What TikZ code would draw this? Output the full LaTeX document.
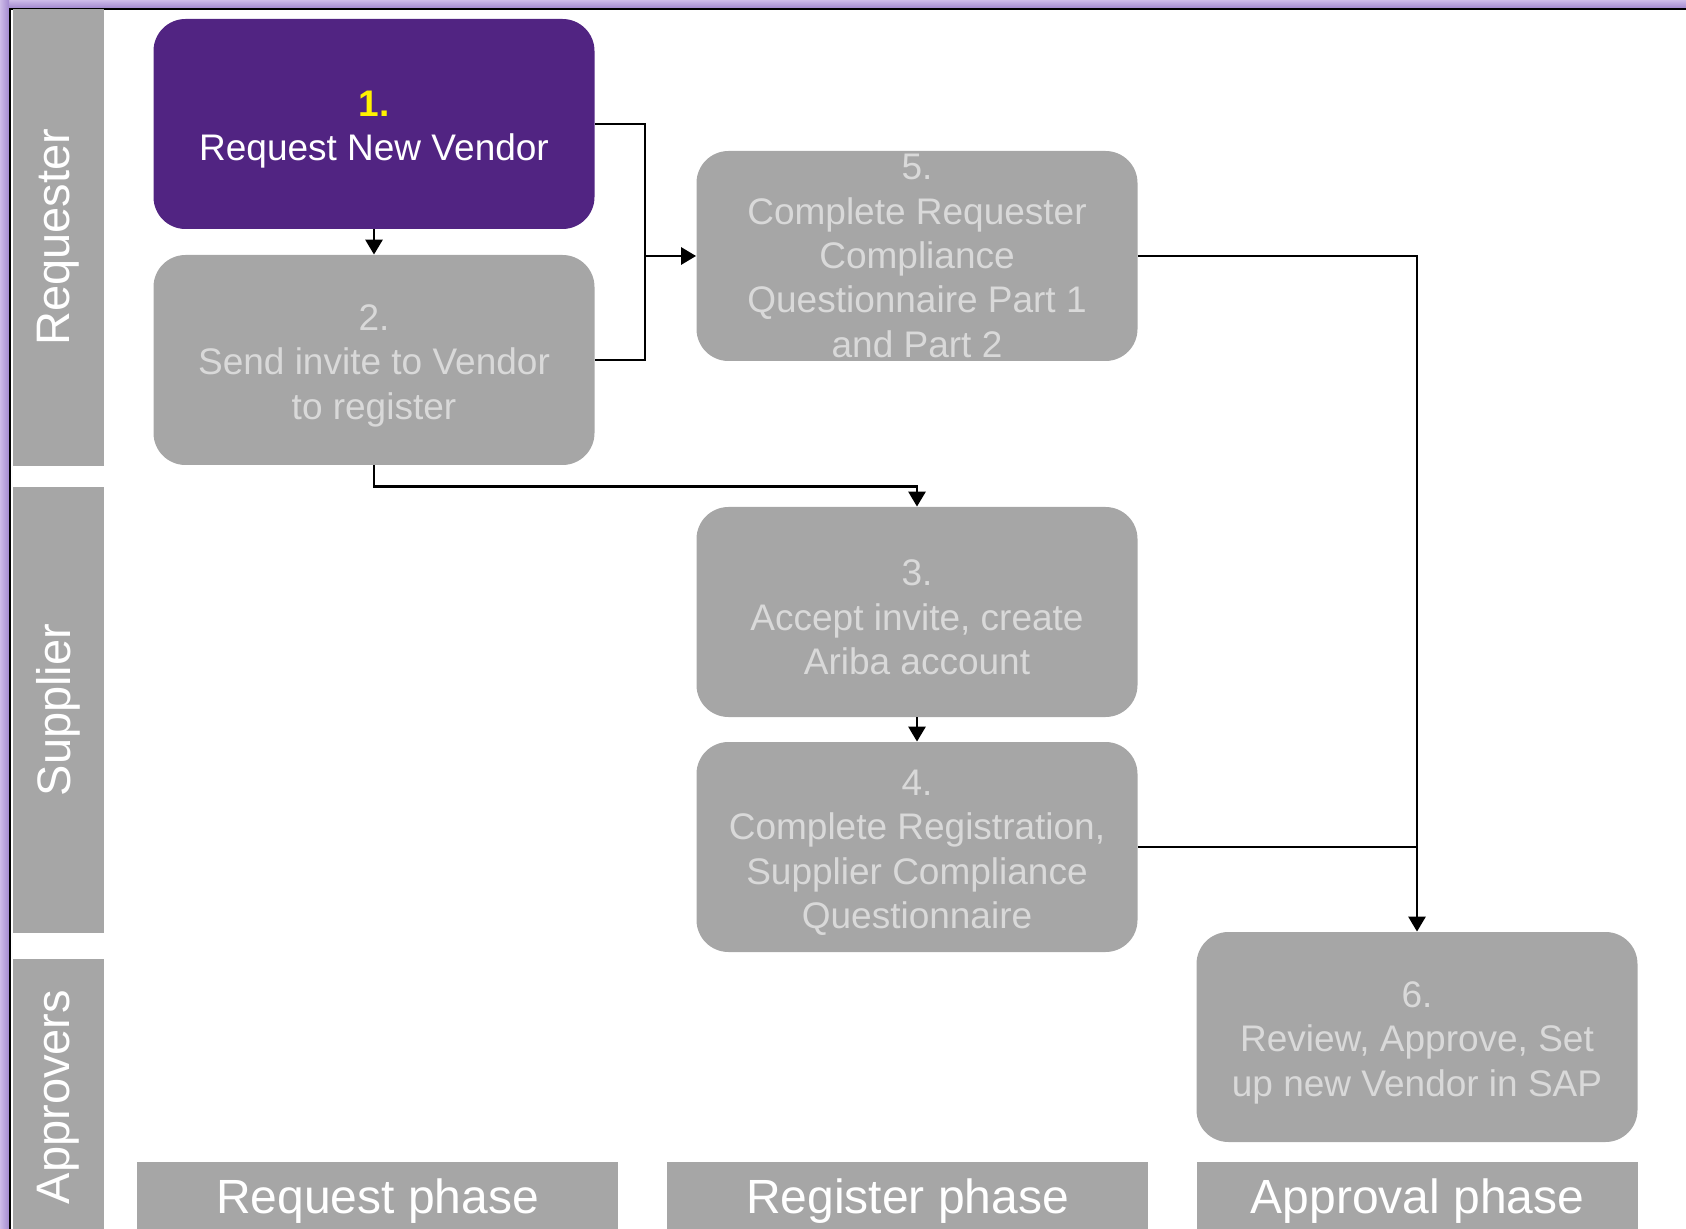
\documentclass[tikz,border=0pt]{standalone}
\usepackage{fontspec}
\setmainfont{Liberation Sans}
\usetikzlibrary{arrows.meta}

\definecolor{boxgray}{HTML}{A6A6A6}
\definecolor{boxtext}{HTML}{D9D9D9}
\definecolor{reqpurple}{HTML}{512482}
\definecolor{framelight}{HTML}{CDBBE8}
\definecolor{framedark}{HTML}{A389CF}

% number line of a step, with a little extra room above it
\newcommand\stepnum[1]{\rule{0pt}{18.5pt}#1}

\tikzset{
  stepbox/.style={fill=boxgray, text=boxtext, rounded corners=16pt,
    minimum width=220.5pt, minimum height=105pt, inner sep=0pt,
    align=center, font=\fontsize{18.5}{22.2}\selectfont},
  lanebox/.style={fill=boxgray, text=white, rotate=90, inner sep=0pt,
    minimum height=45.5pt, font=\fontsize{23.5}{28}\selectfont},
  phasebox/.style={fill=boxgray, text=white, inner sep=0pt,
    minimum width=240.5pt, minimum height=39pt, font=\fontsize{24}{28}\selectfont},
  conn/.style={line width=1.4pt},
  arr/.style={conn, -{Triangle[length=7.5pt,width=8.5pt]}}
}

\begin{document}
\begin{tikzpicture}[x=0.5pt,y=0.5pt,yscale=-1,xscale=1]
\useasboundingbox (0,0) rectangle (1686,1229);

%Frame
\shade[top color=framelight, bottom color=framedark] (0,0) rectangle (1686,8);
\shade[left color=framelight, right color=framedark] (0,0) rectangle (9,1229);
\draw[line width=1pt] (10,1229) -- (10,9) -- (1686,9);

%Swim lanes
\node[lanebox, minimum width=228.5pt] (requester) at (58.5,237.5) {Requester};
\node[lanebox, minimum width=223pt] (supplier) at (58.5,710) {Supplier};
\node[lanebox, minimum width=138pt] (approvers) at (58.5,1097) {Approvers};

%Phases
\node[phasebox] (reqphase) at (377.5,1201) {Request phase};
\node[phasebox] (regphase) at (907.5,1201) {Register phase};
\node[phasebox, minimum width=220.5pt] (appphase) at (1417.5,1201) {Approval phase};

%Steps
\node[stepbox, fill=reqpurple, text=white] (b1) at (374,124)
  {\stepnum{\bfseries\color{yellow}1.}\\Request New Vendor};
\node[stepbox] (b2) at (374,360) {\stepnum{2.}\\Send invite to Vendor\\to register};
\node[stepbox] (b5) at (917,256)
  {5.\\Complete Requester\\Compliance\\Questionnaire Part 1\\and Part 2};
\node[stepbox] (b3) at (917,612) {\stepnum{3.}\\Accept invite, create\\Ariba account};
\node[stepbox] (b4) at (917,847)
  {\stepnum{4.}\\Complete Registration,\\Supplier Compliance\\Questionnaire};
\node[stepbox] (b6) at (1417,1037) {\stepnum{6.}\\Review, Approve, Set\\up new Vendor in SAP};

%Connectors
\coordinate (jn) at (645,256);
\draw[arr] (b1.south) -- (b2.north);
\draw[conn] (b1.east) -| (jn) |- (b2.east);
\draw[arr] (jn) -- (b5.west);
\draw[arr] (b2.south) -- ++(0,21) -| (b3.north);
\draw[arr] (b3.south) -- (b4.north);
\draw[arr] (b5.east) -| (b6.north);
\draw[conn] (b4.east) -- (b4.east -| b6.north);

\end{tikzpicture}
\end{document}
